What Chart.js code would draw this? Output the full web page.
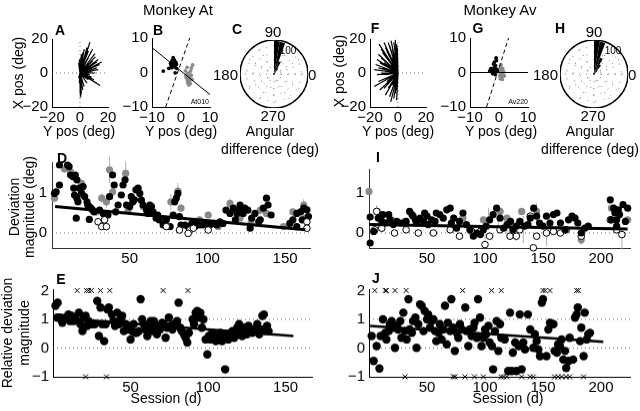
<!DOCTYPE html>
<html><head><meta charset="utf-8">
<script src="https://cdn.jsdelivr.net/npm/chart.js@4/dist/chart.umd.min.js"></script>
<style>
html,body{margin:0;padding:0;background:#fff;}
#root{position:relative;width:640px;height:411px;overflow:hidden;background:#fff;font-family:'Liberation Sans',Arial,sans-serif;}
canvas{position:absolute;}
.t{position:absolute;white-space:nowrap;line-height:1;color:#000;}
</style></head><body><div id="root"></div>
<script>
// ================= DATA =================
// Panel A / F: saccade-vector ray end points [x, y] (deg)
const aRays = [[7.1,18.2],[9,14],[10.7,11.4],[8,12.5],[6,13],[5,15],[4,11],[3,14],[2,12],[1,11],[0.5,9],[-0.5,8],[-1,6],[11,9.5],[13,8],[12,6.5],[9,7],[15.5,6.5],[14,5],[10,4],[12,3],[8,3],[13,2],[9,1],[11,0],[7,-1],[8.3,-2.4],[10,-4],[12,-6],[14.3,-7.3],[6,-4],[5,-6],[4,-3],[3,-8],[2,-10],[1,-12],[0.5,-14],[-0.5,-6],[-1,-3],[3,5],[5,8],[6,9],[7,6],[5,3],[3,1],[2,-2],[4,-1],[1.5,-6],[0.8,-9]];
const aGrayRays = [[0.2,-15],[0.6,-13],[-0.3,-12]];
const fRays = [[-13.6,17],[-10,18],[-7,18],[-5,19],[-3,18],[-2,19.5],[-1,17],[-0.5,15],[-12,14],[-9,15],[-6,16],[-14,11],[-11,12],[-8,13],[-4,14],[-15,8],[-12,9],[-9,10],[-6,11],[-3,12],[-16,5],[-13,6],[-10,6],[-7,8],[-4,9],[-17,2],[-14,3],[-11,3],[-8,4],[-5,5],[-15,-1],[-12,0],[-9,-1],[-6,1],[-17,-8],[-14,-5],[-11,-4],[-8,-5],[-5,-3],[-13,-10],[-10,-9],[-7,-9],[-4,-7],[-9,-13],[-6,-14],[-5.2,-17],[-3,-15],[-2,-12],[-1,-10],[-1,-16],[-2,-6]];

// Panel B / G: end points of two site sets, and fitted axes
const bBlack = [[-2.6,2.8],[-3,3.5],[-2.2,3.2],[-3.4,2.2],[-2,2],[-2.8,1.8],[-3.2,3],[-2.4,2.5],[-1.8,2.9],[-3.6,2.6],[-2.5,3.8],[-2.9,2.1],[-2.1,1.5],[-3.3,1.4],[-1.6,2.4],[-6.1,0.4],[-2,-0.1],[-4.2,1.2],[-2.7,4.3],[-1.5,1.2],[-3,2.6],[-2.3,3.5]];
const bGray = [[2.5,-1.1],[2,-0.5],[3,-1.8],[2.8,-2.6],[1.8,-1.5],[3.5,-0.8],[2.2,-2.2],[3.2,-3.2],[2.6,-0.2],[1.5,0.5],[4,2.2],[3.6,1.3],[2.9,-1.2],[2.3,-3],[3.8,-2],[1.7,-0.9],[2.7,-3.6],[3.3,0.4],[2.1,1.5],[2.4,-1.6]];
const bSolid = [[-10,7.2],[10,-6.4]];
const bDashed = [[-5.3,-10],[3,10]];
const gBlack = [[-1.7,1.4],[-2,0.8],[-1.2,2],[-0.9,3.5],[-1,4.2],[-2.6,0.3],[-3.2,0.5],[-1.5,0.2],[-2.2,-0.3],[-0.8,1],[-1.9,2.5],[-1.3,-0.6],[-2.8,1.1],[-0.6,0.4],[-1.6,3]];
const gGray = [[0.6,-0.1],[0.2,0.8],[1,0.5],[1.4,-0.6],[0.8,-1.4],[0.3,-0.9],[1.6,0.2],[0.5,1.5],[1.1,-2],[0.9,-0.4],[0,0.3],[1.3,1.1],[0.4,-1.8],[1.8,-1],[0.7,2.2]];
const gSolid = [[-10,0],[10,0]];
const gDashed = [[-4.3,-10],[3.3,10]];

// Panel C / H: rose histogram of angular difference (10-deg bins, clockwise from 90 deg)
const roseBins = ['85','75','65','55','45','35','25','15','5','355','345','335','325','315','305','295','285','275','265','255','245','235','225','215','205','195','185','175','165','155','145','135','125','115','105','95'];
const roseC = [122,120,50,25,8,0,0,0,0,0,0,0,0,0,0,0,0,0,0,0,0,0,0,0,0,0,0,0,0,0,0,0,0,0,0,4];
const roseH = [125,121,64,40,15,5,0,0,0,0,0,0,0,0,0,0,0,0,0,0,0,0,0,0,0,0,0,0,0,0,0,0,0,0,0,6];

// Panel D: deviation magnitude vs session (Monkey At)
const dBlack = [[1.6,0.99],[2.7,1.03],[4.8,1.2],[4.8,1.7],[10,1.7],[11,1.66],[12,1.45],[13.4,1.41],[14,1.12],[15,1.45],[16,1.33],[14.5,0.95],[16,0.87],[16.7,0.78],[17.7,1.12],[19,1.0],[20,1.16],[21,0.91],[22.5,0.78],[23,0.7],[24,0.66],[25,0.62],[26,0.58],[27,0.53],[15.6,0.37],[24,0.34],[30.6,0.57],[33,0.49],[36,0.45],[37,0.91],[39,1.45],[40,1.2],[41,0.53],[42.5,0.7],[44.6,0.95],[45.7,1.2],[47,1.33],[48,0.7],[50,0.66],[51,0.91],[52,0.78],[53,0.83],[54,1.08],[55.4,1.12],[56.5,0.99],[57.5,0.82],[58.6,0.7],[60.8,0.58],[63,0.7],[64,0.66],[65,0.53],[62,0.49],[67,0.37],[68,0.45],[69,0.33],[71.5,0.2],[73.6,0.33],[76,0.16],[78,0.45],[79,0.78],[80,0.87],[81,0.99],[82,0.41],[83,0.2],[85.5,0.2],[87.6,0.16],[90,0.24],[92,0.16],[93,0.24],[95,0.2],[97,0.2],[99.5,0.24],[101.6,0.2],[104,0.24],[106,0.2],[108,0.28],[110,0.24],[112,0.57],[114.5,0.49],[116.7,0.62],[118,0.33],[119,0.49],[120,0.57],[121,0.7],[123,0.49],[124,0.62],[126,0.57],[127.5,0.12],[128.5,0.37],[130.6,0.49],[133,0.28],[134,0.33],[136,0.62],[138,0.87],[139,0.7],[141,0.45],[153,0.24],[155,0.33],[157.5,0.49],[160,0.53],[161,0.33],[162,0.62],[164,0.58],[165,0.41],[157.5,0.16]];
const dGray = [[1.6,0.87,0.1],[8,1.6,0.1],[12,1.53,0.12],[19,1.24,0.1],[20,0.95,0.08],[28.5,0.53,0.1],[32,0.87,0.12],[35,0.78,0.15],[37,1.58,0.33],[39,1.03,0.2],[47.4,1.49,0.3],[49,0.57,0.1],[58.6,0.66,0.1],[61,0.5,0.1],[65,0.49,0.08],[72.6,0.33,0.1],[76.5,0.78,0.2],[81,1.05,0.2],[83,0.62,0.1],[95,0.33,0.08],[100.5,0.45,0.1],[107,0.16,0.08],[114.5,0.74,0.12],[117,0.57,0.1],[121,0.37,0.08],[128,0.24,0.1],[134,0.57,0.12],[138,0.49,0.1],[149,0.16,0.08],[155,0.53,0.1],[162,0.7,0.15],[163,0.37,0.1]];
const dOpen = [[29.6,0.28],[32,0.16],[35,0.16],[33.8,0.33],[73.6,0.16],[88.7,0.075],[87.6,-0.01],[91,0.12],[100.5,0.075],[164,0.28],[164,0.12],[82,0.075]];
const dFit = [[2,0.66],[163,0.08]];

// Panel I: deviation magnitude vs session (Monkey Av)
const iBlack = [[1,0.4],[1,-0.25],[4,0.04],[8,0.37],[11,0.29],[12,0.46],[14,0.25],[17,0.46],[18,0.33],[21,0.21],[24,0.29],[27,0.25],[30,0.25],[32,0.29],[35,0.54],[37,0.46],[38,0.42],[40,0.33],[41,0.25],[44,0.37],[47,0.29],[48,0.5],[50,0.42],[51,0.21],[54,0.33],[57,0.29],[58,0.5],[61,0.46],[64,0.37],[67,0.58],[70,0.62],[71,0.25],[73,0.37],[75.5,0.12],[78,0.29],[81,0.5],[84,0.21],[87,0.08],[90,-0.08],[93,0],[96,-0.04],[98.6,0.08],[101,0.17],[104,0.33],[107,0.46],[110,0.62],[113,0.37],[116,0.12],[119,0.21],[122,0.29],[124,0.08],[127,0.17],[130,0.29],[134,0.17],[137,0.21],[139,0.37],[142,0.62],[144.5,0.42],[147,0.25],[150,0.17],[153,0.42],[156,0.25],[159,0.46],[162,0.5],[165,0.25],[169,0.08],[172,0.33],[175,0.42],[177.6,0.37],[180,0.25],[183,0],[186,0.12],[189,0.17],[208,0.83],[209,0.33],[211,0.62],[212,0.5],[213.5,0.33],[215,0.58],[216,0.46],[219,0.71],[221,0.29],[223,0.62],[213.5,0.17]];
const iGray = [[0,1.04],[7,0.54],[9.5,0.46],[19.5,0.33],[31,0.29],[44,0.33],[81,0.37],[98.6,0.33],[113,0.54],[119,0.37],[131.6,0.54],[144.5,0.54],[183,-0.17],[209,0.62],[223,0.33]];
const iOpen = [[5,0.08],[6.6,0.54],[11,0.12],[15,0.33],[22,0],[32,0.08],[42.5,0],[55.5,0],[70,0.08],[78,-0.08],[88.5,0.04],[96,0.04],[100,-0.29],[104,-0.08],[113,0.08],[121.6,-0.08],[127,-0.08],[130,0.08],[139,0.42],[141.7,-0.37],[144.5,-0.08],[153,0],[159,0.04],[165,0],[170,0.08],[183,-0.08],[208,0.33],[213.5,0.08],[218,-0.04]];
const iErr = [[6.6,0.42,0.7],[103,0.08,0.62],[111.5,0.08,0.7],[133,-0.25,0.42],[153,-0.33,0.17],[218,-0.42,0.12],[119,-0.05,0.45],[127,-0.2,0.3],[100,-0.35,0.1],[183,-0.3,0.05],[144.5,0.3,0.75],[81,0.2,0.55]];
const iFit = [[0,0.21],[223,0.1]];

// Panel E / J: relative deviation magnitude vs session
const CLIP_HI = 2, CLIP_LO = -1;
const eBlack = [[1.6,1.47],[3,1.58],[2.7,1.06],[4.8,1.06],[6,0.88],[8,1.06],[10,1.17],[11,0.94],[12,1.12],[13.4,0.94],[14.5,1.06],[16.7,1.23],[17.7,0.83],[19,0.59],[20,1.06],[21,1.12],[22,0.77],[23,0.94],[25,0.83],[27,0.83],[28.5,1.64],[29.6,0.42],[30.6,1.41],[31.7,0.83],[33,0.24],[34,0.83],[35,1.35],[36,1.41],[38,1.17],[39,0.94],[40,0.77],[41.4,1.23],[42.5,0.83],[43.5,1.0],[44.6,1.12],[45.7,0.59],[47,0.83],[48,0.65],[49,0.77],[50,0.3],[51,0.59],[52,0.83],[53,0.53],[54,0.53],[55.4,0.59],[56.5,1.7],[57.5,1.0],[58.6,0.83],[59.7,0.65],[60.8,0.42],[62,0.71],[63,0.94],[64,0.59],[65,0.94],[66,0.65],[67,0.48],[68,0.77],[69,0.65],[70.4,0.88],[71.5,0.83],[72.6,0.36],[73.6,0.71],[74.7,1.06],[75.8,0.77],[77,0.65],[78,0.83],[80,0.94],[81,1.58],[82,0.71],[83,0.59],[84.4,0.48],[85.5,0.36],[86.6,0.19],[87.6,0.53],[90,1.0],[90.9,0.83],[92,1.23],[93,1.29],[94,1.06],[95,1.23],[96,0.71],[97,1.0],[98.4,0.3],[99.5,-0.22],[100.5,0.42],[101.6,0.3],[102.7,0.53],[104,0.36],[105,0.24],[106,0.42],[107,0.3],[108,0.53],[109,0.24],[110,0.36],[111,-0.74],[112,0.48],[113,0.3],[114.5,0.42],[115.6,0.59],[116.7,0.36],[117.7,0.42],[118.8,0.71],[120,0.83],[121,0.59],[122,0.42],[123,0.71],[124,0.59],[125,0.48],[126,0.77],[127.4,0.65],[128.5,0.53],[129.6,0.65],[130.6,0.59],[131.7,0.83],[133,0.48],[134,0.65],[135,1.12],[136,1.17],[137,0.59],[138,0.77],[139,0.59]];
const eOverX = [15.6,21.6,23,24.8,30.6,36.6,71,87];
const eUnderX = [21,34.5];
const eFit = [[0.5,1.06],[155,0.42]];

const jBlack = [[2.3,0.42],[4,-0.45],[6.6,0.07],[9,-0.71],[10,0.42],[12,1.0],[14,0.53],[15,0.3],[17,0.59],[18,0.83],[19.5,0.94],[21,0.71],[22.4,0.01],[24,0.77],[25,0.65],[27,0.94],[28,0.36],[29.6,1.23],[31,0.59],[32.5,0.3],[34,1.7],[35,0.65],[37,0.53],[38,0.94],[40,1.06],[41,0.01],[42.5,0.83],[44,1.52],[45.4,1.47],[47,0.59],[48,1.29],[50,1.0],[51,1.17],[52.6,0.71],[54,0.94],[55.5,1.0],[57,0.59],[58,0.24],[60,0.53],[61,0.83],[62.6,0.3],[64,0.65],[65.5,1.47],[67,0.13],[68,0.88],[70,0.59],[71,1.7],[72.7,0.71],[74,-0.1],[75.6,0.53],[77,0.36],[78.4,0.83],[80,0.65],[83,1.41],[84,0.59],[85.6,0.07],[87,0.65],[88.5,0.42],[90,0.71],[91,0.88],[93,0.36],[94,1.7],[95.7,1.06],[97,0.07],[98.6,0.36],[100,0.65],[101,0.48],[103,0.77],[104,0.19],[106,0.07],[107,-0.74],[108.6,0.59],[110,0.94],[111.5,-0.1],[113,0.83],[114,0.36],[117,0.3],[120,-0.8],[121.6,1.23],[123,-0.8],[124,-0.16],[126,0.19],[127,-0.8],[129,0.07],[130,1.17],[131.6,-0.74],[133,0.19],[134.5,-0.05],[137,1.17],[139,0.65],[141.7,0.01],[143,0.48],[144.5,0.24],[146,-0.05],[147.4,-0.28],[149,1.58],[150,1.7],[153,-0.28],[154.6,0.65],[156,0.88],[159,0.83],[160,-0.1],[162,-0.16],[163,0.13],[164.6,0.07],[166,0.3],[167.5,-0.4],[169,-0.1],[170,-0.69],[172,-0.45],[173,0.36],[176,-0.4],[177.6,1.06],[179,1.17],[180,1.41],[182,0.24],[183,0.71],[185,-0.28],[186,1.23],[187.6,0.3],[189,0.48],[190.5,0.53]];
const jOverX = [5,14,15,22.4,32,80.7,105.7,114,150,152,156,179,180.5];
const jUnderX = [31,72.7,74,82.8,91,98.6,114,116,118.7,131.6,139,141.7,160,163,166,170,173,185];
const jFit = [[1,0.77],[202,0.22]];

// ================= RENDER =================
Chart.defaults.font.family = "'Liberation Sans', Arial, sans-serif";
Chart.defaults.color = '#000';
Chart.defaults.animation = false;
Chart.defaults.events = [];
Chart.defaults.plugins.legend.display = false;
Chart.defaults.plugins.tooltip.enabled = false;

const root = document.getElementById('root');
const GRAY = '#8a8a8a';

function txt(s, x, y, o = {}) {
  const d = document.createElement('div');
  d.className = 't'; d.textContent = s;
  d.style.left = x + 'px'; d.style.top = y + 'px';
  d.style.fontSize = (o.size || 14) + 'px';
  if (o.bold) d.style.fontWeight = 'bold';
  const ax = o.align === 'left' ? '0' : o.align === 'right' ? '-100%' : '-50%';
  d.style.transform = 'translate(' + ax + ',-50%)' + (o.rot ? ' rotate(-90deg)' : '');
  root.appendChild(d);
}
const fmt = v => String(v).replace('-', '\u2212');

function axis(s, size, dir) {
  return {
    type: 'linear', min: s.min, max: s.max,
    grid: { display: false, drawTicks: false },
    border: { display: true, color: s.color || '#000', width: 1 },
    ticks: { font: { size: 15 }, padding: s.pad, maxRotation: 0, autoSkip: false,
      callback: v => (s.labels && !s.labels.includes(v)) ? '' : fmt(v) },
    afterBuildTicks: sc => { sc.ticks = s.ticks.map(v => ({ value: v })); },
    afterFit: sc => {
      if (dir === 'x') sc.height = size; else sc.width = size;
      sc.paddingLeft = sc.paddingRight = sc.paddingTop = sc.paddingBottom = 0;
    }
  };
}
function panel(a, xs, ys, datasets) {
  const c = document.createElement('canvas');
  const W = a.yW + a.w + a.pR, H = a.pT + a.h + a.xH;
  c.width = W; c.height = H;
  c.style.left = (a.l - a.yW) + 'px'; c.style.top = (a.t - a.pT) + 'px';
  c.style.width = W + 'px'; c.style.height = H + 'px';
  root.appendChild(c);
  new Chart(c, { type: 'scatter', data: { datasets },
    options: { responsive: false, maintainAspectRatio: false,
      layout: { padding: { top: a.pT, right: a.pR, left: 0, bottom: 0 } },
      scales: { x: axis(xs, a.xH, 'x'), y: axis(ys, a.yW, 'y') } } });
}
const P = arr => arr.map(p => ({ x: p[0], y: p[1] }));
const dots = (arr, fill, r, stroke) => ({ data: P(arr), showLine: false, pointRadius: r,
  pointBackgroundColor: fill, pointBorderColor: stroke || fill, pointBorderWidth: stroke ? 1 : 0, clip: false });
const line = (arr, color, w, dash) => ({ data: P(arr), showLine: true, borderColor: color, borderWidth: w,
  borderDash: dash || [], pointRadius: 0, borderCapStyle: 'butt' });
function rays(ends, color, w) {
  const d = [];
  ends.forEach(e => { d.push({ x: 0, y: 0 }, { x: e[0], y: e[1] }, { x: e[0], y: null }); });
  return { data: d, showLine: true, spanGaps: false, borderColor: color, borderWidth: w, pointRadius: 0 };
}
function bars(arr, color) {
  const d = [];
  arr.forEach(b => { d.push({ x: b[0], y: b[1] }, { x: b[0], y: b[2] }, { x: b[0], y: null }); });
  return { data: d, showLine: true, spanGaps: false, borderColor: color, borderWidth: 1, pointRadius: 0, clip: false };
}
const crosses = (xs, yv) => ({ data: xs.map(x => ({ x, y: yv })), showLine: false, pointStyle: 'crossRot',
  pointRadius: 3.5, pointBorderColor: '#000', pointBorderWidth: 1, clip: false });
const DOT = [1, 3];

// ---- A ----
const axA = { min: -20, max: 20, ticks: [-20, 0, 20] };
panel({ l: 52, t: 39, w: 56, h: 68, yW: 40, xH: 24, pT: 10, pR: 12 },
  { ...axA, pad: 2 }, { ...axA, pad: 4 },
  [rays(aRays, '#000', 1.2), rays(aGrayRays, GRAY, 1.2),
   line([[0, -20], [0, 20]], '#444', 0.8, DOT), line([[-20, 0], [20, 0]], '#444', 0.8, DOT)]);
// ---- F ----
panel({ l: 370, t: 39, w: 56, h: 68, yW: 40, xH: 24, pT: 10, pR: 12 },
  { ...axA, pad: 2 }, { ...axA, pad: 4 },
  [rays(fRays, '#000', 1.2),
   line([[0, -20], [0, 20]], '#444', 0.8, DOT), line([[0, 0], [20, 0]], '#444', 0.8, DOT)]);
// ---- B ----
const axB = { min: -10, max: 10, ticks: [-10, 0, 10] };
panel({ l: 152, t: 38, w: 58, h: 69, yW: 40, xH: 24, pT: 10, pR: 12 },
  { ...axB, pad: 2 }, { ...axB, pad: 4 },
  [line(bSolid, '#000', 1), line(bDashed, '#000', 1, [4, 3]),
   dots(bBlack, '#000', 1.9), dots(bGray, GRAY, 1.9)]);
// ---- G ----
panel({ l: 470, t: 38, w: 58, h: 69, yW: 40, xH: 24, pT: 10, pR: 12 },
  { ...axB, pad: 2 }, { ...axB, pad: 4 },
  [line(gSolid, '#000', 1), line(gDashed, '#000', 1, [4, 3]),
   dots(gBlack, '#000', 1.9), dots(gGray, GRAY, 1.9)]);

// ---- C / H polar ----
function polar(left, top, size, vals) {
  const c = document.createElement('canvas');
  c.width = size; c.height = size;
  c.style.left = left + 'px'; c.style.top = top + 'px';
  c.style.width = size + 'px'; c.style.height = size + 'px';
  root.appendChild(c);
  new Chart(c, { type: 'polarArea',
    data: { labels: roseBins, datasets: [{ data: vals, backgroundColor: '#000', borderWidth: 0 }] },
    options: { responsive: false, maintainAspectRatio: false, layout: { padding: 0 },
      scales: { r: { min: 0, max: 125,
        ticks: { display: false, stepSize: 25 },
        pointLabels: { display: false },
        grid: { color: c => (c.tick && c.tick.value === 125) ? '#000' : '#555',
                lineWidth: c => (c.tick && c.tick.value === 125) ? 1.5 : 0.8 },
        border: { dash: c => (c.tick && c.tick.value === 125) ? [] : [1, 7] },
        angleLines: { display: true, lineWidth: 0.8, borderDash: [1, 6],
          color: c => (c.index % 3 === 0) ? '#555' : 'rgba(0,0,0,0)' } } } } });
}
polar(240, 40, 68, roseC);
polar(560, 40, 68, roseH);

// ---- D ----
const yDev = { ticks: [0, 0.5, 1, 1.5], labels: [0, 1], pad: 5, color: '#333' };
panel({ l: 52, t: 162, w: 258, h: 86, yW: 40, xH: 24, pT: 10, pR: 12 },
  { min: 0, max: 166, ticks: [50, 100, 150], pad: 2, color: '#333' },
  { ...yDev, min: -0.375, max: 1.775 },
  [line(dFit, '#000', 3), dots(dOpen, '#fff', 3.3, '#000'), dots(dBlack, '#000', 3.6),
   dots(dGray, GRAY, 3.6), bars(dGray.map(p => [p[0], p[1] - p[2], p[1] + p[2]]), '#b0b0b0'),
   line([[0, 0], [166, 0]], '#444', 0.8, DOT)]);
// ---- I ----
panel({ l: 369, t: 169, w: 261, h: 79, yW: 40, xH: 24, pT: 10, pR: 12 },
  { min: 0, max: 225, ticks: [50, 100, 150, 200], pad: 2, color: '#333' },
  { ...yDev, min: -0.375, max: 1.6 },
  [line(iFit, '#000', 3), dots(iBlack, '#000', 3.6), dots(iOpen, '#fff', 3.3, '#000'),
   dots(iGray, GRAY, 3.6), bars(iErr, '#b0b0b0'),
   line([[0, 0], [225, 0]], '#444', 0.8, DOT)]);
// ---- E ----
const yRel = { min: -1, max: 2.05, ticks: [-1, 0, 1, 2], pad: 4 };
panel({ l: 53, t: 289, w: 259, h: 87.5, yW: 40, xH: 24, pT: 10, pR: 12 },
  { min: 0, max: 167, ticks: [50, 100, 150], pad: 2 }, yRel,
  [line(eFit, '#000', 2.5), dots(eBlack, '#000', 4.2), crosses(eOverX, CLIP_HI), crosses(eUnderX, CLIP_LO),
   line([[0, 1], [167, 1]], '#444', 0.8, DOT), line([[0, 0], [167, 0]], '#444', 0.8, DOT)]);
// ---- J ----
panel({ l: 369, t: 289, w: 261, h: 87.5, yW: 40, xH: 24, pT: 10, pR: 12 },
  { min: 0, max: 225, ticks: [50, 100, 150, 200], pad: 2 }, yRel,
  [line(jFit, '#000', 2.5), dots(jBlack, '#000', 4.2), crosses(jOverX, CLIP_HI), crosses(jUnderX, CLIP_LO),
   line([[0, 1], [225, 1]], '#444', 0.8, DOT), line([[0, 0], [225, 0]], '#444', 0.8, DOT)]);

// ---- Text ----
txt('Monkey At', 178, 9, { size: 15 });
txt('Monkey Av', 500, 9, { size: 15 });
[['A', 60, 30], ['B', 158, 30], ['C', 237, 29], ['F', 375, 28], ['G', 478, 28], ['H', 560, 28],
 ['D', 62, 158], ['I', 378, 157], ['E', 61, 279], ['J', 376, 278]]
  .forEach(l => txt(l[0], l[1], l[2], { size: 14, bold: true }));
txt('X pos (deg)', 18, 73, { rot: true });
txt('X pos (deg)', 339, 71, { rot: true });
txt('Y pos (deg)', 79, 131); txt('Y pos (deg)', 181, 131);
txt('Y pos (deg)', 398, 131); txt('Y pos (deg)', 501, 131);
txt('Angular', 270, 131); txt('difference (deg)', 270, 149);
txt('Angular', 590, 131); txt('difference (deg)', 590, 149);
// polar labels
txt('90', 273, 31, { size: 15 }); txt('270', 273, 115, { size: 15 });
txt('180', 238, 74, { size: 15, align: 'right' }); txt('0', 308, 74, { size: 15, align: 'left' });
txt('90', 594, 31, { size: 15 }); txt('270', 593, 115, { size: 15 });
txt('180', 558, 74, { size: 15, align: 'right' }); txt('0', 628, 74, { size: 15, align: 'left' });
txt('100', 288, 51, { size: 10 }); txt('100', 613, 51, { size: 10 });
txt('At010', 209, 101, { size: 7, align: 'right' });
txt('Av220', 528, 101, { size: 7, align: 'right' });
txt('Deviation', 14, 207, { rot: true }); txt('magnitude (deg)', 29, 207, { rot: true });
txt('Relative deviation', 7, 333, { rot: true }); txt('magnitude', 24, 333, { rot: true });
txt('Session (d)', 166, 398); txt('Session (d)', 508, 398);
</script></body></html>
